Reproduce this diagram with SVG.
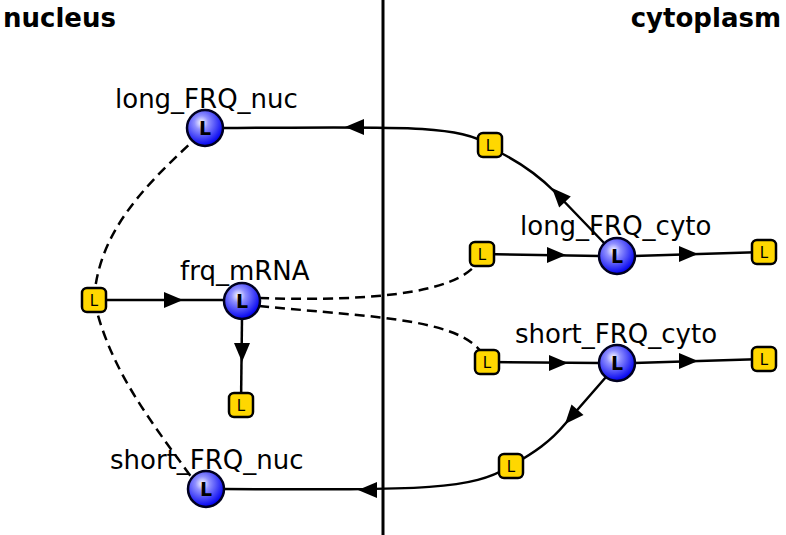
<svg xmlns="http://www.w3.org/2000/svg" width="786" height="535" viewBox="0 0 786 535">
<defs>
<radialGradient id="bg" cx="0.4" cy="0.35" r="0.65">
<stop offset="0" stop-color="#ffffff"/>
<stop offset="0.3" stop-color="#9090ff"/>
<stop offset="1" stop-color="#0000f0"/>
</radialGradient>
<style>
.lbl{font-family:"DejaVu Sans",Verdana,sans-serif;font-size:26px;fill:#000}
.cmp{font-family:"DejaVu Sans",Verdana,sans-serif;font-size:26px;font-weight:bold;fill:#000}
.ball{fill:url(#bg);stroke:#000020;stroke-width:2.5}
.bl{font-family:"DejaVu Sans",sans-serif;font-size:19px;font-weight:bold;text-anchor:middle;fill:#000}
.sq{fill:#ffd700;stroke:#000;stroke-width:2.5}
.sl{font-family:"DejaVu Sans",sans-serif;font-size:15px;text-anchor:middle;fill:#000}
.e{fill:none;stroke:#000;stroke-width:2.5}
.d{fill:none;stroke:#000;stroke-width:2.5;stroke-dasharray:10,6}
.ah{fill:#000}
</style>
</defs>
<rect width="786" height="535" fill="#fff"/>
<line x1="383" y1="0" x2="383" y2="535" stroke="#000" stroke-width="3"/>
<text class="cmp" x="3" y="27">nucleus</text>
<text class="cmp" x="781" y="27" text-anchor="end">cytoplasm</text>
<g id="connectors">
<path class="e" d="M606,245 L555,192 C535,172 515,160 499,152"/>
<path class="ah" d="M552,188 L570.8,196.4 L559.2,207.4 Z"/>
<path class="e" d="M490,145 C455,124 400,127 222,128"/>
<path class="ah" d="M345,127 L364,119 L364,135 Z"/>
<path class="e" d="M482,254 L600,256"/>
<path class="ah" d="M566,255 L547,247 L547,263 Z"/>
<path class="e" d="M634,256 L764,252"/>
<path class="ah" d="M698,254 L679,246 L679,262 Z"/>
<path class="e" d="M487,362 L600,363"/>
<path class="ah" d="M568,363 L549,355 L549,371 Z"/>
<path class="e" d="M634,363 L764,359"/>
<path class="ah" d="M698,361 L679,353 L679,369 Z"/>
<path class="e" d="M606,377 L565,424 C550,442 535,452 511,466"/>
<path class="ah" d="M565,424 L583.5,415 L571.5,404.4 Z"/>
<path class="e" d="M511,466 C470,490 430,490 223,489"/>
<path class="ah" d="M358,490 L377,482 L377,498 Z"/>
<path class="e" d="M94,300 L225,300"/>
<path class="ah" d="M183,300 L164,292 L164,308 Z"/>
<path class="e" d="M242,318 L241,405"/>
<path class="ah" d="M242,362 L234,343 L250,343 Z"/>
<path class="d" d="M94,300 C98,235 140,190 193,141"/>
<path class="d" d="M94,300 C110,370 150,420 192,478"/>
<path class="d" d="M259,298 C380,302 470,292 482,254"/>
<path class="d" d="M259,306 C380,318 470,318 487,362"/>
</g>
<g id="sq1"><rect class="sq" x="82" y="288" width="24" height="24" rx="5"/><text class="sl" x="94" y="306">L</text></g>
<g id="sq2"><rect class="sq" x="229" y="393" width="24" height="24" rx="5"/><text class="sl" x="241" y="411">L</text></g>
<g id="sq3"><rect class="sq" x="478" y="133" width="24" height="24" rx="5"/><text class="sl" x="490" y="151">L</text></g>
<g id="sq4"><rect class="sq" x="470" y="242" width="24" height="24" rx="5"/><text class="sl" x="482" y="260">L</text></g>
<g id="sq5"><rect class="sq" x="752" y="240" width="24" height="24" rx="5"/><text class="sl" x="764" y="258">L</text></g>
<g id="sq6"><rect class="sq" x="475" y="350" width="24" height="24" rx="5"/><text class="sl" x="487" y="368">L</text></g>
<g id="sq7"><rect class="sq" x="752" y="347" width="24" height="24" rx="5"/><text class="sl" x="764" y="365">L</text></g>
<g id="sq8"><rect class="sq" x="499" y="454" width="24" height="24" rx="5"/><text class="sl" x="511" y="472">L</text></g>
<g id="long_FRQ_nuc"><circle class="ball" cx="205" cy="128" r="18"/><text class="bl" x="205" y="135">L</text><text class="lbl" x="115" y="108">long_FRQ_nuc</text></g>
<g id="frq_mRNA"><circle class="ball" cx="242" cy="301" r="18"/><text class="bl" x="242" y="308">L</text><text class="lbl" x="180" y="280">frq_mRNA</text></g>
<g id="long_FRQ_cyto"><circle class="ball" cx="617" cy="256" r="18"/><text class="bl" x="617" y="263">L</text><text class="lbl" x="520" y="235">long_FRQ_cyto</text></g>
<g id="short_FRQ_cyto"><circle class="ball" cx="617" cy="363" r="18"/><text class="bl" x="617" y="370">L</text><text class="lbl" x="515" y="343">short_FRQ_cyto</text></g>
<g id="short_FRQ_nuc"><circle class="ball" cx="206" cy="489" r="18"/><text class="bl" x="206" y="496">L</text><text class="lbl" x="110" y="469">short_FRQ_nuc</text></g>
</svg>
